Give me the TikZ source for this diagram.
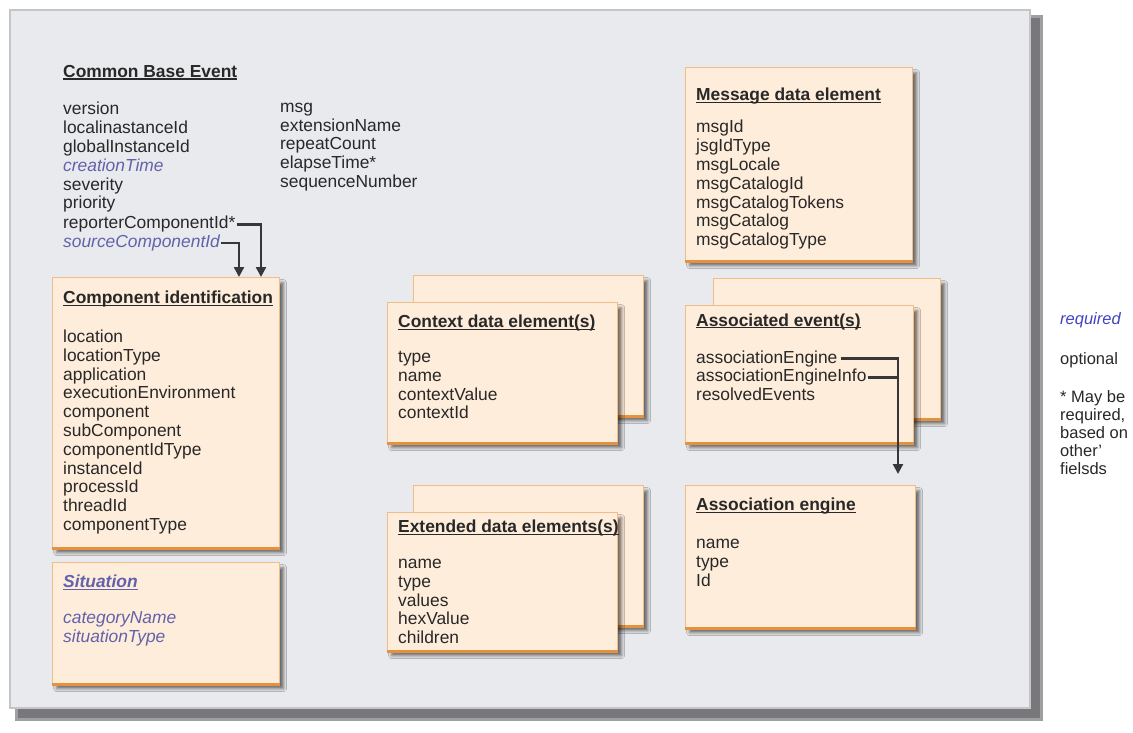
\documentclass[tikz,border=0pt]{standalone}
\usepackage{fontspec}
\setmainfont{Liberation Sans}
\usetikzlibrary{calc,positioning,shadows.blur,arrows.meta}
\definecolor{panelfill}{RGB}{233,234,237}
\definecolor{panelline}{RGB}{196,197,201}
\definecolor{panelshadow}{RGB}{120,120,122}
\definecolor{boxfill}{RGB}{255,237,219}
\definecolor{boxedge}{RGB}{242,188,135}
\definecolor{boxbase}{RGB}{228,146,62}
\definecolor{textc}{RGB}{40,40,40}
\definecolor{reqblue}{RGB}{98,98,172}
\definecolor{legblue}{RGB}{66,66,196}
\definecolor{linkc}{RGB}{55,55,55}
\newcommand\boxtitle[1]{\setbox0\hbox{\bfseries #1}\rlap{\rule[-2.4pt]{\wd0}{1.1pt}}\box0}
\newcommand\reqf[1]{{\color{reqblue}\itshape #1}}
\tikzset{
  cbe/.style={font=\fontsize{17.4}{18.8}\selectfont, text=textc, inner sep=0pt},
  fields/.style={cbe, align=left, anchor=north west, execute at begin node=\strut},
  card/.style={
    draw=boxedge, fill=boxfill, line width=1.2pt, anchor=north west, inner sep=0pt,
    blur shadow={shadow xshift=4pt, shadow yshift=-5pt, shadow opacity=55,
      shadow blur radius=3pt},
  },
  cardbase/.style={draw=boxbase, line width=3pt},
  wire/.style={draw=linkc, line width=2.4pt},
  link/.style={wire, -{Triangle[length=10pt,width=10pt]}},
}

\begin{document}
\begin{tikzpicture}[x=1pt,y=-1pt]
  \useasboundingbox (0,0) rectangle (1133,733);

  % grey panel
  \fill[panelshadow!70] (15,15) rectangle (1043,721);
  \fill[panelshadow] (18,18) rectangle (1040,718);
  \draw[panelline, fill=panelfill, line width=1.5pt] (10,10) rectangle (1030,708);

  % stacked cards behind
  \node[card, minimum width=230pt, minimum height=140pt] (ctxback) at (413,275) {};
  \node[card, minimum width=230pt, minimum height=140pt] (extback) at (413,485) {};
  \node[card, minimum width=227pt, minimum height=140pt] (assocback) at (713,278) {};
  \foreach \b in {ctxback,extback,assocback}
    \draw[cardbase] (\b.south west) -- (\b.south east);

  % cards
  \node[card, minimum width=227pt, minimum height=193pt] (msgbox) at (685,67) {};
  \node[card, minimum width=227pt, minimum height=270pt] (compid) at (52,277) {};
  \node[card, minimum width=227pt, minimum height=121pt] (situation) at (52,562) {};
  \node[card, minimum width=230pt, minimum height=140pt] (ctx) at (387,302) {};
  \node[card, minimum width=230pt, minimum height=138pt] (ext) at (387,512) {};
  \node[card, minimum width=228pt, minimum height=137pt] (assoc) at (685,305) {};
  \node[card, minimum width=230pt, minimum height=142pt] (aengine) at (685,485) {};
  \foreach \b in {msgbox,compid,situation,ctx,ext,assoc,aengine}
    \draw[cardbase] (\b.south west) -- (\b.south east);

  % Common Base Event
  \node[fields] (cbeleft) at (63,64.8) {\boxtitle{Common Base Event}\\[19pt]
    version\\localinastanceId\\globalInstanceId\\\reqf{creationTime}\\severity\\priority};
  \node[cbe, anchor=base west] (reporter) at (63,228.8) {reporterComponentId*};
  \node[cbe, anchor=base west] (source) at (63,247.6) {\reqf{sourceComponentId}};
  \node[fields] (cberight) at (280,102.8)
    {msg\\extensionName\\repeatCount\\elapseTime*\\sequenceNumber};

  \node[fields] (msgtext) at ($(msgbox.north west)+(11,20.8)$)
    {\boxtitle{Message data element}\\[13.5pt]
     msgId\\jsgIdType\\msgLocale\\msgCatalogId\\msgCatalogTokens\\msgCatalog\\msgCatalogType};

  \node[fields] (compidtext) at ($(compid.north west)+(11,13.8)$)
    {\boxtitle{Component identification}\\[20pt]
     location\\locationType\\application\\executionEnvironment\\component\\subComponent\\
     componentIdType\\instanceId\\processId\\threadId\\componentType};

  \node[fields, text=reqblue] (situationtext) at ($(situation.north west)+(11,12.8)$)
    {\itshape\boxtitle{Situation}\\[17pt]\itshape categoryName\\\itshape situationType};

  \node[fields] (ctxtext) at ($(ctx.north west)+(11,12.8)$)
    {\boxtitle{Context data element(s)}\\[16pt]type\\name\\contextValue\\contextId};

  \node[fields] (exttext) at ($(ext.north west)+(11,7.8)$)
    {\boxtitle{Extended data elements(s)}\\[17pt]name\\type\\values\\hexValue\\children};

  \node[cbe, anchor=base west] (assoctitle) at ($(assoc.north west)+(11,21)$)
    {\boxtitle{Associated event(s)}};
  \node[cbe, anchor=base west] (aeng) at ($(assoc.north west)+(11,58)$) {associationEngine};
  \node[cbe, anchor=base west] (aenginfo) at ($(assoc.north west)+(11,76.8)$) {associationEngineInfo};
  \node[cbe, anchor=base west] (resolved) at ($(assoc.north west)+(11,95.6)$) {resolvedEvents};

  \node[fields] (aenginetext) at ($(aengine.north west)+(11,12.8)$)
    {\boxtitle{Association engine}\\[19pt]name\\type\\Id};

  % connectors
  \draw[link, shorten <=1pt] (reporter.east) -| ($(compid.north west)+(209,0)$);
  \draw[link, shorten <=1pt] (source.east) -| ($(compid.north west)+(187,0)$);
  \coordinate (aedrop) at ($(aengine.north west)+(213,0)$);
  \draw[link, shorten <=3pt, shorten >=11pt] (aeng.east) -| (aedrop);
  \draw[wire, shorten <=1pt] (aenginfo.east) -- (aenginfo.east -| aedrop);

  % legend
  \node[cbe, font=\fontsize{16.5}{18}\selectfont\itshape, text=legblue, anchor=base west]
    (legreq) at (1060,324) {required};
  \node[cbe, font=\fontsize{16.5}{18}\selectfont, anchor=base west] (legopt) at (1060,364) {optional};
  \node[fields, font=\fontsize{16.5}{18}\selectfont] (legnote) at (1060,390.4)
    {* May be\\required,\\based on\\other'\\fielsds};
\end{tikzpicture}
\end{document}
